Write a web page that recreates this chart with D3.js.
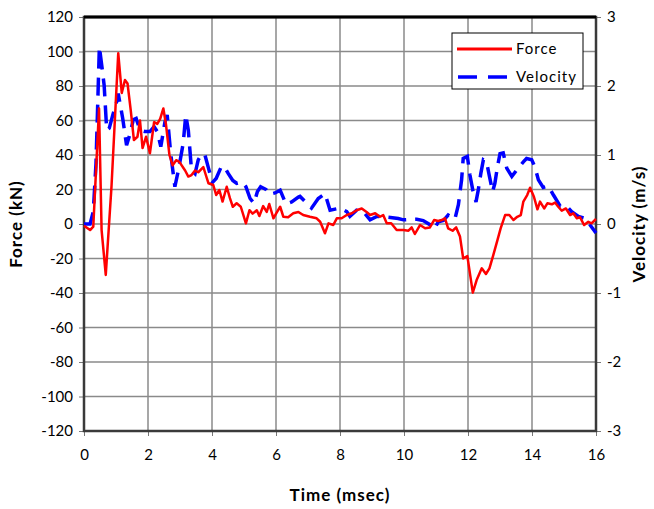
<!DOCTYPE html>
<html>
<head>
<meta charset="utf-8">
<script src="https://cdn.jsdelivr.net/npm/d3@7"></script>
<style>
  body { margin: 0; background: #fff; }
  text { font-family: Lato, "Open Sans", sans-serif; }
</style>
</head>
<body>
<svg id="chart" width="654" height="509"></svg>
<script>
// force trace (time in msec, force in kN)
var forceTime = [0, 0.19, 0.29, 0.47, 0.55, 0.68, 0.86, 1.07, 1.18, 1.28, 1.36, 1.46, 1.56, 1.67, 1.75, 1.83, 1.94, 2.06, 2.19, 2.29, 2.38, 2.48, 2.56, 2.67, 2.77, 2.88, 2.98, 3.16, 3.26, 3.36, 3.47, 3.57, 3.73, 3.78, 3.89, 4.04, 4.13, 4.23, 4.33, 4.46, 4.56, 4.65, 4.77, 4.9, 5.06, 5.17, 5.27, 5.4, 5.48, 5.6, 5.71, 5.79, 5.92, 6.02, 6.13, 6.23, 6.38, 6.54, 6.7, 6.85, 7.06, 7.27, 7.38, 7.53, 7.64, 7.79, 7.9, 8.05, 8.21, 8.37, 8.52, 8.68, 8.83, 8.94, 9.1, 9.25, 9.35, 9.46, 9.6, 9.77, 9.98, 10.14, 10.24, 10.34, 10.5, 10.66, 10.81, 10.94, 11.07, 11.18, 11.28, 11.38, 11.52, 11.63, 11.75, 11.85, 11.98, 12.15, 12.27, 12.43, 12.56, 12.67, 12.79, 12.92, 13.02, 13.16, 13.29, 13.42, 13.54, 13.65, 13.73, 13.85, 13.94, 14.06, 14.17, 14.25, 14.38, 14.48, 14.62, 14.72, 14.82, 14.93, 15.06, 15.19, 15.29, 15.4, 15.5, 15.63, 15.76, 15.86, 16.0];
var forceKN = [-1, -3.5, -1.5, 67, -3.5, -29.5, 22, 99, 76, 83.5, 81.5, 66, 48.7, 50.6, 60, 44, 50.6, 41, 59, 58, 61, 67, 58, 40, 34, 37, 36, 31, 27.5, 28.4, 31, 30, 33, 30, 23.6, 22.6, 16.8, 19.7, 13, 21.6, 15, 10, 12, 10, 0.4, 8, 6, 8, 4.6, 10.4, 7, 11.6, 3.3, 6.6, 10, 4.2, 3.9, 6.2, 7, 5.2, 4.2, 3.3, 1.3, -5.4, 0.4, -0.6, 3.3, 3.3, 5.2, 6.2, 8, 9, 7, 5.2, 6.2, 4.2, 5.2, 0.4, 0.4, -3.5, -3.5, -3.9, -2, -5.8, -0.6, -2.5, -2, 2.3, 1.7, 2.3, 3.3, -2.5, -3.9, -2, -7.3, -20, -18.6, -39.8, -32.5, -25.7, -29, -25.7, -18, -9.3, -2.5, 5.2, 5.2, 2.3, 4.2, 5.2, 13, 16.8, 21, 15.8, 8.5, 13, 9, 12, 11.4, 12.4, 10, 7.7, 9, 5.2, 6.2, 3.3, 3.9, -0.6, 1.3, 0.4, 2.9];

// velocity trace (time in msec, velocity in m/s)
var velTime = [0, 0.19, 0.29, 0.375, 0.42, 0.48, 0.56, 0.63, 0.71, 0.79, 0.9, 1.02, 1.07, 1.21, 1.33, 1.44, 1.54, 1.63, 1.75, 1.9, 2.06, 2.19, 2.29, 2.4, 2.53, 2.6, 2.71, 2.84, 2.95, 3.1, 3.18, 3.26, 3.36, 3.47, 3.57, 3.68, 3.78, 3.89, 4.01, 4.13, 4.3, 4.41, 4.51, 4.65, 4.77, 4.93, 5.06, 5.19, 5.31, 5.42, 5.52, 5.69, 5.79, 5.97, 6.13, 6.31, 6.49, 6.7, 6.75, 7.11, 7.32, 7.53, 7.69, 8.0, 8.21, 8.31, 8.52, 8.73, 8.94, 9.15, 9.46, 9.82, 9.98, 10.4, 10.6, 10.81, 10.94, 11.07, 11.23, 11.38, 11.59, 11.7, 11.8, 11.85, 11.98, 12.06, 12.15, 12.25, 12.32, 12.4, 12.48, 12.58, 12.67, 12.77, 12.84, 12.92, 13.0, 13.1, 13.21, 13.37, 13.52, 13.73, 13.83, 13.99, 14.09, 14.2, 14.35, 14.51, 14.67, 14.88, 15.08, 15.24, 15.45, 15.66, 15.81, 16.0];
var velMS = [0, 0, 0.18, 0.88, 1.6, 2.57, 2.28, 2.01, 1.36, 1.39, 1.58, 1.77, 1.89, 1.53, 1.14, 1.31, 1.51, 1.53, 1.36, 1.34, 1.34, 1.41, 1.34, 1.12, 1.48, 1.58, 1.02, 0.54, 0.78, 1.17, 1.58, 1.36, 0.78, 0.73, 0.93, 1.02, 1.0, 0.81, 0.6, 0.66, 0.84, 0.81, 0.73, 0.63, 0.59, 0.61, 0.54, 0.37, 0.3, 0.47, 0.54, 0.5, 0.43, 0.45, 0.49, 0.29, 0.32, 0.39, 0.4, 0.23, 0.37, 0.44, 0.2, 0.23, 0.18, 0.11, 0.2, 0.18, 0.06, 0.11, 0.1, 0.08, 0.06, 0.07, 0.05, -0.01, -0.08, 0.03, 0.05, 0.13, 0.07, 0.28, 0.64, 0.95, 0.98, 0.71, 0.49, 0.32, 0.49, 0.73, 0.93, 0.9, 0.69, 0.47, 0.59, 0.83, 1.02, 1.03, 0.81, 0.69, 0.78, 0.9, 0.95, 0.93, 0.83, 0.64, 0.53, 0.55, 0.42, 0.26, 0.26, 0.18, 0.11, 0.08, -0.01, -0.13];

var timeTicks = [0, 2, 4, 6, 8, 10, 12, 14, 16];
var forceTicks = [120, 100, 80, 60, 40, 20, 0, -20, -40, -60, -80, -100, -120];
var velTicks = [3, 2, 1, 0, -1, -2, -3];

var svg = d3.select("#chart");
var margin = {top: 17, right: 58, bottom: 78, left: 84};
var W = 654, H = 509;
var x = d3.scaleLinear().domain([0, 16]).range([margin.left, W - margin.right]);
var yF = d3.scaleLinear().domain([-120, 120]).range([H - margin.bottom, margin.top]);
var yV = d3.scaleLinear().domain([-3, 3]).range([H - margin.bottom, margin.top]);

// plain hyphen minus like the original, not the unicode minus
var fmt = function(d){ return String(d); };

// grid
var grid = svg.append("g");
grid.selectAll("line.h").data(forceTicks).enter().append("line")
  .attr("x1", x(0)).attr("x2", x(16))
  .attr("y1", function(d){ return yF(d); }).attr("y2", function(d){ return yF(d); })
  .style("stroke", "#8a8a8a").style("stroke-width", 1.5);
grid.selectAll("line.v").data(timeTicks).enter().append("line")
  .attr("x1", function(d){ return x(d); }).attr("x2", function(d){ return x(d); })
  .attr("y1", yF(120)).attr("y2", yF(-120))
  .style("stroke", "#8a8a8a").style("stroke-width", 1.5);

// axes
var axL = svg.append("g").attr("transform", "translate(" + x(0) + ",0)")
  .call(d3.axisLeft(yF).tickValues(forceTicks).tickFormat(fmt).tickSize(5).tickPadding(6));
var axR = svg.append("g").attr("transform", "translate(" + x(16) + ",0)")
  .call(d3.axisRight(yV).tickValues(velTicks).tickFormat(fmt).tickSize(5).tickPadding(6));
var axB = svg.append("g").attr("transform", "translate(0," + yF(-120) + ")")
  .call(d3.axisBottom(x).tickValues(timeTicks).tickFormat(fmt).tickSize(5).tickPadding(13));
[axL, axR, axB].forEach(function(a){
  a.selectAll("text").style("font-size", "15px").style("fill", "#000");
  a.selectAll("line").style("stroke", "#777");
  a.select(".domain").remove();
});

// frame
svg.append("rect")
  .attr("x", x(0)).attr("y", yF(120))
  .attr("width", x(16) - x(0)).attr("height", yF(-120) - yF(120))
  .style("fill", "none").style("stroke", "#3a3a3a").style("stroke-width", 2.5);
svg.append("line").attr("x1", x(0)).attr("x2", x(16)).attr("y1", yF(120)).attr("y2", yF(120))
  .style("stroke", "#000").style("stroke-width", 3);

// series
var forceLine = d3.line()
  .x(function(d, i){ return x(forceTime[i]); })
  .y(function(d){ return yF(d); });
var velLine = d3.line()
  .x(function(d, i){ return x(velTime[i]); })
  .y(function(d){ return yV(d); });

svg.append("path").datum(velMS).attr("d", velLine)
  .style("fill", "none").style("stroke", "#0000ff").style("stroke-width", 3.5)
  .style("stroke-dasharray", "18,9");
svg.append("path").datum(forceKN).attr("d", forceLine)
  .style("fill", "none").style("stroke", "#ff0000").style("stroke-width", 2.5)
  .style("stroke-linejoin", "round");

// legend
var lg = svg.append("g").attr("transform", "translate(452,33)");
lg.append("rect").attr("width", 131).attr("height", 56)
  .style("fill", "#fff").style("stroke", "#000").style("stroke-width", 1);
lg.append("line").attr("x1", 5).attr("x2", 60).attr("y1", 16).attr("y2", 16)
  .style("stroke", "#ff0000").style("stroke-width", 3);
lg.append("text").attr("x", 64).attr("y", 21).text("Force")
  .style("font-size", "15px").style("letter-spacing", "1px");
lg.append("line").attr("x1", 6).attr("x2", 60).attr("y1", 44).attr("y2", 44)
  .style("stroke", "#0000ff").style("stroke-width", 3.5).style("stroke-dasharray", "19,11");
lg.append("text").attr("x", 64).attr("y", 49).text("Velocity")
  .style("font-size", "15px").style("letter-spacing", "1px");

// axis titles
svg.append("text").attr("transform", "translate(22," + yF(0) + ") rotate(-90)")
  .attr("text-anchor", "middle").text("Force (kN)")
  .style("font-size", "17px").style("font-weight", "bold").style("letter-spacing", "1px");
svg.append("text").attr("transform", "translate(645," + yF(0) + ") rotate(-90)")
  .attr("text-anchor", "middle").text("Velocity (m/s)")
  .style("font-size", "17px").style("font-weight", "bold").style("letter-spacing", "1px");
svg.append("text").attr("x", (x(0) + x(16)) / 2).attr("y", 501)
  .attr("text-anchor", "middle").text("Time (msec)")
  .style("font-size", "17px").style("font-weight", "bold").style("letter-spacing", "1px");
</script>
</body>
</html>
